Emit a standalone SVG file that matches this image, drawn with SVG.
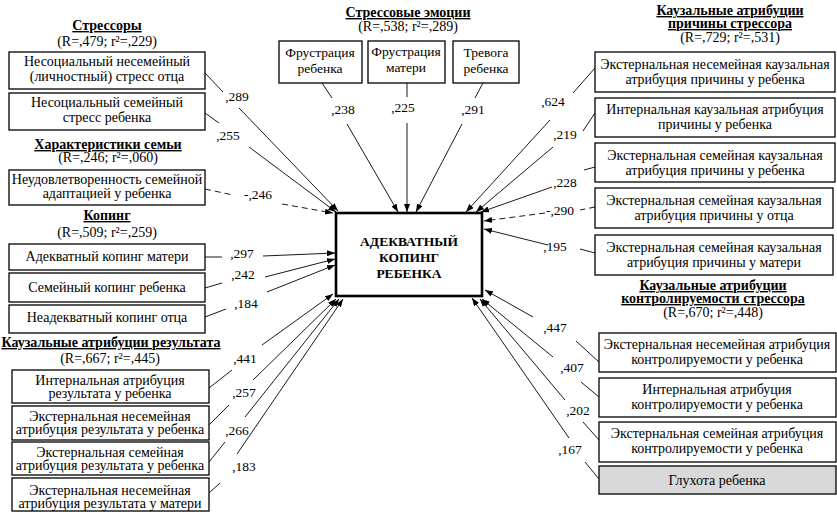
<svg xmlns="http://www.w3.org/2000/svg" width="837" height="512" viewBox="0 0 837 512">
  <defs>
    <marker id="arrow" markerUnits="userSpaceOnUse" markerWidth="8" markerHeight="6" refX="8" refY="3" orient="auto">
      <path d="M0,0 L8,3 L0,6 z" fill="#000"/>
    </marker>
    <style>
      text { font-family: "Liberation Serif", "Times New Roman", serif; font-size: 14px; fill: #000; text-anchor: middle; }
      .title { font-weight: bold; text-decoration: underline; }
      .core { font-weight: bold; font-size: 13.5px; }
      .num { font-size: 13.5px; }
      .emo { font-size: 13.5px; }
      .box { fill: #fff; stroke: #000; stroke-width: 1.3; }
      .grey { fill: #d9d9d9; }
      .main { fill: #fff; stroke: #000; stroke-width: 2.6; }
      .ln { stroke: #1a1a1a; stroke-width: 1; fill: none; }
      .ar { marker-end: url(#arrow); }
      .dash { stroke-dasharray: 6 4; }
    </style>
  </defs>
  <rect width="837" height="512" fill="#fff"/>

  <!-- group headings -->
  <g id="headings">
    <text class="title" x="107" y="30">Стрессоры</text>
    <text x="107" y="46">(R=,479; r²=,229)</text>
    <text class="title" x="108" y="149">Характеристики семьи</text>
    <text x="108" y="162">(R=,246; r²=,060)</text>
    <text class="title" x="107" y="220">Копинг</text>
    <text x="107" y="237">(R=,509; r²=,259)</text>
    <text class="title" x="111" y="347">Каузальные атрибуции результата</text>
    <text x="110" y="363">(R=,667; r²=,445)</text>
    <text class="title" x="408" y="17">Стрессовые эмоции</text>
    <text x="408" y="31">(R=,538; r²=,289)</text>
    <text class="title" x="730" y="15">Каузальные атрибуции</text>
    <text class="title" x="730" y="28">причины стрессора</text>
    <text x="730" y="42">(R=,729; r²=,531)</text>
    <text class="title" x="713" y="290">Каузальные атрибуции</text>
    <text class="title" x="713" y="303">контролируемости стрессора</text>
    <text x="713" y="317">(R=,670; r²=,448)</text>
  </g>

  <!-- connectors -->
  <g id="connectors">
    <line class="ln" x1="205" y1="73" x2="223" y2="92"/>
    <line class="ln ar" x1="239" y1="108" x2="338" y2="211"/>
    <line class="ln" x1="205" y1="113" x2="219" y2="123"/>
    <line class="ln ar" x1="249" y1="147" x2="336" y2="212"/>
    <line class="ln dash" x1="205" y1="189" x2="233" y2="195"/>
    <line class="ln dash ar" x1="282" y1="204" x2="333" y2="213"/>
    <line class="ln" x1="205" y1="257" x2="222" y2="257"/>
    <line class="ln ar" x1="263" y1="256" x2="335" y2="253"/>
    <line class="ln" x1="205" y1="288" x2="222" y2="283"/>
    <line class="ln ar" x1="265" y1="277" x2="335" y2="259"/>
    <line class="ln" x1="205" y1="317" x2="226" y2="309"/>
    <line class="ln ar" x1="267" y1="292" x2="335" y2="265"/>
    <line class="ln" x1="209" y1="388" x2="232" y2="370"/>
    <line class="ln ar" x1="262" y1="345" x2="333" y2="294"/>
    <line class="ln" x1="209" y1="425" x2="229" y2="405"/>
    <line class="ln ar" x1="253" y1="380" x2="336" y2="299"/>
    <line class="ln" x1="209" y1="462" x2="225" y2="442"/>
    <line class="ln ar" x1="245" y1="417" x2="339" y2="299"/>
    <line class="ln" x1="209" y1="493" x2="220" y2="483"/>
    <line class="ln ar" x1="237" y1="454" x2="343" y2="299"/>
    <line class="ln" x1="322" y1="83" x2="332" y2="98"/>
    <line class="ln ar" x1="347" y1="124" x2="398" y2="212"/>
    <line class="ln" x1="407" y1="83" x2="407" y2="97"/>
    <line class="ln ar" x1="407" y1="123" x2="407" y2="212"/>
    <line class="ln" x1="483" y1="83" x2="475" y2="98"/>
    <line class="ln ar" x1="462" y1="124" x2="416" y2="212"/>
    <line class="ln" x1="595" y1="68" x2="573" y2="93"/>
    <line class="ln ar" x1="550" y1="120" x2="466" y2="212"/>
    <line class="ln" x1="595" y1="113" x2="583" y2="131"/>
    <line class="ln ar" x1="553" y1="147" x2="476" y2="212"/>
    <line class="ln" x1="595" y1="167" x2="584" y2="170"/>
    <line class="ln ar" x1="552" y1="187" x2="481" y2="212"/>
    <line class="ln dash" x1="595" y1="207" x2="580" y2="210"/>
    <line class="ln dash ar" x1="545" y1="213" x2="484" y2="221"/>
    <line class="ln" x1="595" y1="253" x2="580" y2="249"/>
    <line class="ln ar" x1="548" y1="245" x2="484" y2="229"/>
    <line class="ln" x1="599" y1="362" x2="576" y2="341"/>
    <line class="ln ar" x1="533" y1="317" x2="485" y2="290"/>
    <line class="ln" x1="599" y1="397" x2="581" y2="382"/>
    <line class="ln ar" x1="553" y1="357" x2="482" y2="299"/>
    <line class="ln" x1="599" y1="440" x2="583" y2="422"/>
    <line class="ln ar" x1="565" y1="400" x2="480" y2="299"/>
    <line class="ln" x1="599" y1="479" x2="585" y2="462"/>
    <line class="ln ar" x1="569" y1="438" x2="472" y2="298"/>

    <text class="num" x="237" y="101">,289</text>
    <text class="num" x="228" y="140">,255</text>
    <text class="num" x="258" y="199">-,246</text>
    <text class="num" x="242" y="258">,297</text>
    <text class="num" x="243" y="279">,242</text>
    <text class="num" x="246" y="308">,184</text>
    <text class="num" x="245" y="363">,441</text>
    <text class="num" x="244" y="397">,257</text>
    <text class="num" x="237" y="435">,266</text>
    <text class="num" x="244" y="471">,183</text>
    <text class="num" x="343" y="114">,238</text>
    <text class="num" x="403" y="112">,225</text>
    <text class="num" x="473" y="114">,291</text>
    <text class="num" x="553" y="106">,624</text>
    <text class="num" x="565" y="139">,219</text>
    <text class="num" x="565" y="187">,228</text>
    <text class="num" x="560" y="215">-,290</text>
    <text class="num" x="555" y="251">,195</text>
    <text class="num" x="555" y="332">,447</text>
    <text class="num" x="572" y="372">,407</text>
    <text class="num" x="578" y="415">,202</text>
    <text class="num" x="570" y="454">,167</text>
  </g>

  <!-- central outcome -->
  <g id="coping-child">
    <rect class="main" x="336" y="213" width="146" height="83"/>
    <text class="core" x="409" y="246">АДЕКВАТНЫЙ</text>
    <text class="core" x="409" y="262">КОПИНГ</text>
    <text class="core" x="409" y="278">РЕБЕНКА</text>
  </g>

  <!-- stressors -->
  <g id="stress-father">
    <rect class="box" x="9" y="52" width="196" height="37"/>
    <text x="107" y="66">Несоциальный несемейный</text>
    <text x="107" y="81">(личностный) стресс отца</text>
  </g>
  <g id="stress-child">
    <rect class="box" x="9" y="93" width="196" height="37"/>
    <text x="107" y="107">Несоциальный семейный</text>
    <text x="107" y="122">стресс ребенка</text>
  </g>
  <g id="family-adaptation">
    <rect class="box" x="9" y="170" width="196" height="35"/>
    <text x="107" y="184">Неудовлетворенность семейной</text>
    <text x="107" y="198">адаптацией у ребенка</text>
  </g>

  <!-- coping -->
  <g id="coping-mother">
    <rect class="box" x="9" y="244" width="196" height="26"/>
    <text x="107" y="261">Адекватный копинг матери</text>
  </g>
  <g id="coping-family">
    <rect class="box" x="9" y="273" width="196" height="29"/>
    <text x="107" y="292">Семейный копинг ребенка</text>
  </g>
  <g id="coping-father">
    <rect class="box" x="9" y="305" width="196" height="28"/>
    <text x="107" y="322">Неадекватный копинг отца</text>
  </g>

  <!-- result attributions -->
  <g id="result-internal">
    <rect class="box" x="12" y="370" width="197" height="33"/>
    <text x="110" y="385">Интернальная атрибуция</text>
    <text x="110" y="398">результата у ребенка</text>
  </g>
  <g id="result-ext-nonfamily-child">
    <rect class="box" x="12" y="406" width="197" height="34"/>
    <text x="110" y="421">Экстернальная несемейная</text>
    <text x="110" y="434">атрибуция результата у ребенка</text>
  </g>
  <g id="result-ext-family-child">
    <rect class="box" x="12" y="442" width="197" height="33"/>
    <text x="110" y="457">Экстернальная семейная</text>
    <text x="110" y="470">атрибуция результата у ребенка</text>
  </g>
  <g id="result-ext-nonfamily-mother">
    <rect class="box" x="12" y="478" width="197" height="33"/>
    <text x="110" y="495">Экстернальная несемейная</text>
    <text x="110" y="508">атрибуция результата у матери</text>
  </g>

  <!-- stress emotions -->
  <g id="frustration-child">
    <rect class="box" x="279" y="41" width="83" height="42"/>
    <text class="emo" x="320" y="57">Фрустрация</text>
    <text class="emo" x="320" y="73">ребенка</text>
  </g>
  <g id="frustration-mother">
    <rect class="box" x="368" y="41" width="77" height="42"/>
    <text class="emo" x="406" y="56">Фрустрация</text>
    <text class="emo" x="406" y="72">матери</text>
  </g>
  <g id="anxiety-child">
    <rect class="box" x="453" y="41" width="66" height="42"/>
    <text class="emo" x="486" y="57">Тревога</text>
    <text class="emo" x="486" y="73">ребенка</text>
  </g>

  <!-- cause attributions -->
  <g id="cause-ext-nonfamily-child">
    <rect class="box" x="595" y="52" width="240" height="40"/>
    <text x="715" y="69">Экстернальная несемейная каузальная</text>
    <text x="715" y="84">атрибуция причины у ребенка</text>
  </g>
  <g id="cause-internal-child">
    <rect class="box" x="595" y="98" width="240" height="39"/>
    <text x="715" y="114">Интернальная каузальная атрибуция</text>
    <text x="715" y="129">причины у ребенка</text>
  </g>
  <g id="cause-ext-family-child">
    <rect class="box" x="595" y="143" width="240" height="39"/>
    <text x="715" y="160">Экстернальная семейная каузальная</text>
    <text x="715" y="175">атрибуция причины у ребенка</text>
  </g>
  <g id="cause-ext-family-father">
    <rect class="box" x="595" y="188" width="238" height="40"/>
    <text x="714" y="205">Экстернальная семейная каузальная</text>
    <text x="714" y="220">атрибуция причины у отца</text>
  </g>
  <g id="cause-ext-family-mother">
    <rect class="box" x="595" y="235" width="238" height="40"/>
    <text x="714" y="252">Экстернальная семейная каузальная</text>
    <text x="714" y="267">атрибуция причины у матери</text>
  </g>

  <!-- control attributions -->
  <g id="control-ext-nonfamily-child">
    <rect class="box" x="599" y="333" width="237" height="39"/>
    <text x="717" y="349">Экстернальная несемейная атрибуция</text>
    <text x="717" y="364">контролируемости у ребенка</text>
  </g>
  <g id="control-internal-child">
    <rect class="box" x="599" y="378" width="237" height="39"/>
    <text x="717" y="394">Интернальная атрибуция</text>
    <text x="717" y="409">контролируемости у ребенка</text>
  </g>
  <g id="control-ext-family-child">
    <rect class="box" x="599" y="422" width="237" height="40"/>
    <text x="717" y="438">Экстернальная семейная атрибуция</text>
    <text x="717" y="453">контролируемости у ребенка</text>
  </g>
  <g id="deafness-child">
    <rect class="box grey" x="599" y="466" width="237" height="28"/>
    <text x="717" y="485">Глухота ребенка</text>
  </g>
</svg>
